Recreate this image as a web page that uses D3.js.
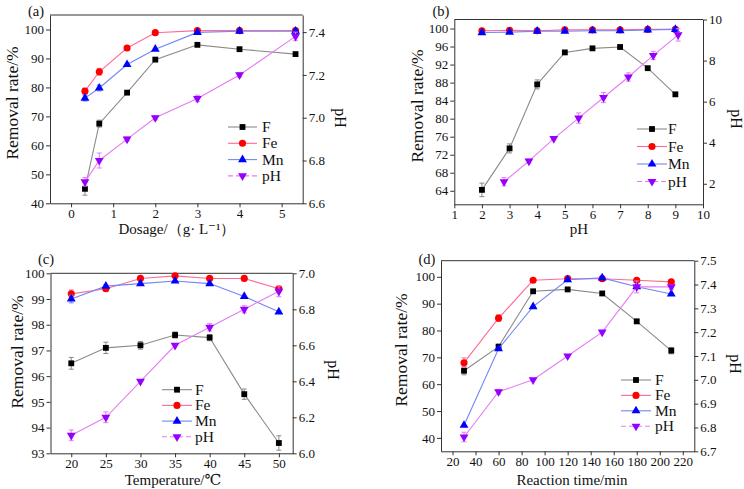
<!DOCTYPE html>
<html><head><meta charset="utf-8">
<script src="https://cdn.jsdelivr.net/npm/d3@7"></script>
<style>
html,body{margin:0;padding:0;background:#fff;}
</style></head>
<body><svg id="c" width="744" height="489"></svg>
<script>
// ---------- data ----------
const seriesNames = ["F","Fe","Mn","pH"];
// (a) dosage
const aX = [0.33,0.67,1.33,2,3,4,5.33];
const aF = [45,67.5,78.2,89.6,94.7,93.2,91.5];
const aFe = [78.7,85.4,93.6,98.9,99.6,99.6,99.6];
const aMn = [76.3,79.8,87.9,93.2,99.0,99.4,99.4];
const aPH = [6.70,6.80,6.90,7.00,7.09,7.20,7.38];
const aFErr = [2.2,1.2,0,0,0,0,0];
const aFeErr = [1,1.2,0,0,0,0,0];
const aMnErr = [1,1,0,0,0,0,0];
const aPHErr = [0.02,0.035,0.01,0.01,0.015,0.01,0.02];
const aXTicks = [0,1,2,3,4,5];
const aYTicks = [40,50,60,70,80,90,100];
const aRTicks = [6.6,6.8,7.0,7.2,7.4];
// (b) initial pH
const bX = [2,3,4,5,6,7,8,9];
const bF = [64.2,73.4,87.6,94.7,95.6,95.9,91.2,85.4];
const bFe = [99.5,99.6,99.5,99.7,99.7,99.7,99.8,99.8];
const bMn = [99.1,99.2,99.4,99.4,99.5,99.5,99.7,99.8];
const bPHx = [2.8,3.7,4.6,5.5,6.4,7.3,8.2,9.1];
const bPH = [2.1,3.1,4.2,5.2,6.2,7.2,8.25,9.25];
const bFErr = [1.5,1,1,0,0,0,0,0];
const bFeErr = [0,0,0,0,0,0,0,0];
const bMnErr = [0,0,0,0,0,0,0,0];
const bPHErr = [0.2,0.1,0.05,0.25,0.25,0.2,0.2,0.3];
const bXTicks = [1,2,3,4,5,6,7,8,9,10];
const bYTicks = [64,68,72,76,80,84,88,92,96,100];
const bRTicks = [2,4,6,8,10];
// (c) temperature
const cX = [20,25,30,35,40,45,50];
const cF = [96.5,97.1,97.2,97.6,97.5,95.3,93.4];
const cFe = [99.2,99.4,99.8,99.9,99.8,99.8,99.4];
const cMn = [99.0,99.5,99.6,99.7,99.6,99.1,98.5];
const cPH = [6.1,6.2,6.4,6.6,6.7,6.8,6.9];
const cFErr = [0.23,0.22,0.15,0.12,0.12,0.2,0.28];
const cFeErr = [0.15,0.08,0,0,0,0,0.08];
const cMnErr = [0.15,0.05,0,0,0,0,0];
const cPHErr = [0.03,0.03,0,0,0.02,0.02,0.03];
const cXTicks = [20,25,30,35,40,45,50];
const cYTicks = [93,94,95,96,97,98,99,100];
const cRTicks = [6.0,6.2,6.4,6.6,6.8,7.0];
// (d) reaction time
const dX = [30,60,90,120,150,180,210];
const dF = [65,74,94.6,95.3,93.8,83.4,72.5];
const dFe = [68,84.6,98.7,99.3,99.3,98.7,98.1];
const dMn = [44.7,73.2,88.9,98.9,99.6,96.3,93.6];
const dPH = [6.76,6.95,7.0,7.1,7.2,7.39,7.39];
const dFErr = [1.5,0.8,0,0,0,0.8,1.2];
const dFeErr = [1.8,1.2,0,0,0,0,0];
const dMnErr = [0,0,0,0,0,0,0];
const dPHErr = [0.02,0.01,0,0,0,0.025,0.01];
const dXTicks = [20,40,60,80,100,120,140,160,180,200,220];
const dYTicks = [40,50,60,70,80,90,100];
const dRTicks = [6.7,6.8,6.9,7.0,7.1,7.2,7.3,7.4,7.5];

// ---------- styles ----------
const FONT = "'Liberation Serif', 'Times New Roman', 'DejaVu Serif', serif";
const lineCol = {F:"#8a8a8a", Fe:"#ff6b98", Mn:"#7286f5", pH:"#e67cf2"};
const markCol = {F:"#000000", Fe:"#ff0000", Mn:"#0000ff", pH:"#9600ff"};
const symType = {F:d3.symbolSquare, Fe:d3.symbolCircle, Mn:d3.symbolTriangle, pH:d3.symbolTriangle};
const symSize = {F:34, Fe:40, Mn:34, pH:34};
const symRot = {F:0, Fe:0, Mn:0, pH:180};

const panels = [
 {label:"(a)", box:[50,302.7,15,203.3], xd:[-0.5,5.5], yd:[40,105], rd:[6.6,7.48],
  xt:aXTicks, yt:aYTicks, rt:aRTicks, rfmt:d3.format(".1f"),
  x:aX, phx:aX, F:aF, Fe:aFe, Mn:aMn, pH:aPH, eF:aFErr, eFe:aFeErr, eMn:aMnErr, epH:aPHErr,
  xtitle:"Dosage/（g· L⁻¹）", xtx:177, xty:234, ltx:18, lty:103, rtx:335, rty:118,
  lab:[36,16], leg:{x1:228,x2:257,tx:262,y0:127,dy:16.3}},
 {label:"(b)", box:[454.3,703,19.5,204.3], xd:[1,10], yd:[61,102], rd:[1,10],
  xt:bXTicks, yt:bYTicks, rt:bRTicks, rfmt:d3.format("d"),
  x:bX, phx:bPHx, F:bF, Fe:bFe, Mn:bMn, pH:bPH, eF:bFErr, eFe:bFeErr, eMn:bMnErr, epH:bPHErr,
  xtitle:"pH", xtx:579, xty:234, ltx:423, lty:106, rtx:731, rty:119,
  lab:[441,16], leg:{x1:637,x2:667,tx:668,y0:129,dy:17.5}},
 {label:"(c)", box:[50.5,292.7,273.3,453.3], xd:[17,52], yd:[93,100], rd:[6,7],
  xt:cXTicks, yt:cYTicks, rt:cRTicks, rfmt:d3.format(".1f"),
  x:cX, phx:cX, F:cF, Fe:cFe, Mn:cMn, pH:cPH, eF:cFErr, eFe:cFeErr, eMn:cMnErr, epH:cPHErr,
  xtitle:"Temperature/℃", xtx:173, xty:485, ltx:23, lty:352, rtx:328, rty:370,
  lab:[46,264], leg:{x1:162,x2:192,tx:195,y0:389.7,dy:15.7}},
 {label:"(d)", box:[441,694.3,260.7,451.3], xd:[10,230], yd:[35,106], rd:[6.7,7.5],
  xt:dXTicks, yt:dYTicks, rt:dRTicks, rfmt:d3.format(".1f"),
  x:dX, phx:dX, F:dF, Fe:dFe, Mn:dMn, pH:dPH, eF:dFErr, eFe:dFeErr, eMn:dMnErr, epH:dPHErr,
  xtitle:"Reaction time/min", xtx:572, xty:485, ltx:407, lty:350, rtx:730, rty:364,
  lab:[427,264], leg:{x1:621,x2:651,tx:655,y0:380,dy:15.4}}
];

const svg = d3.select("#c");
const TF = 13;
const txt = (sel) => sel.style("font-family", FONT).attr("fill","#111");

panels.forEach(p => {
  const [L,R,T,B] = p.box;
  const x = d3.scaleLinear().domain(p.xd).range([L,R]);
  const y = d3.scaleLinear().domain(p.yd).range([B,T]);
  const yr = d3.scaleLinear().domain(p.rd).range([B,T]);
  const g = svg.append("g");

  g.append("line").attr("x1",L).attr("x2",R).attr("y1",T).attr("y2",T).attr("stroke","#333").attr("stroke-width",1);

  const styleAxis = sel => {
    sel.attr("font-family", null);
    sel.selectAll("path").attr("stroke","#333").attr("stroke-width",1);
    sel.selectAll("line").attr("stroke","#333");
    sel.selectAll("text").style("font-family", FONT).style("font-size", TF+"px").attr("fill","#111");
  };
  g.append("g").attr("transform",`translate(0,${B})`)
    .call(d3.axisBottom(x).tickValues(p.xt).tickSize(4).tickSizeOuter(0).tickPadding(1).tickFormat(d3.format("d")))
    .call(styleAxis);
  g.append("g").attr("transform",`translate(${L},0)`)
    .call(d3.axisLeft(y).tickValues(p.yt).tickSize(4).tickSizeOuter(0).tickPadding(2).tickFormat(d3.format("d")))
    .call(styleAxis);
  g.append("g").attr("transform",`translate(${R},0)`)
    .call(d3.axisRight(yr).tickValues(p.rt).tickSize(4).tickSizeOuter(0).tickPadding(2).tickFormat(p.rfmt))
    .call(styleAxis);

  g.append("text").attr("x",p.xtx).attr("y",p.xty).attr("text-anchor","middle").style("font-size","15px").text(p.xtitle).call(txt);
  g.append("text").attr("transform",`translate(${p.ltx},${p.lty}) rotate(-90)`).attr("text-anchor","middle").style("font-size","17.5px").text("Removal rate/%").call(txt);
  g.append("text").attr("transform",`translate(${p.rtx},${p.rty}) rotate(90)`).attr("text-anchor","middle").style("font-size","16px").text("pH").call(txt);
  g.append("text").attr("x",p.lab[0]).attr("y",p.lab[1]).attr("text-anchor","middle").style("font-size","14.5px").text(p.label).call(txt);

  seriesNames.forEach(s => {
    const isPH = s === "pH";
    const xs = isPH ? p.phx : p.x;
    const ys = p[s];
    const es = p["e"+s];
    const ys2 = isPH ? yr : y;
    const pts = xs.map((v,i)=>({x:v,y:ys[i],e:es[i]}));
    g.append("path").datum(pts)
      .attr("d", d3.line().x(d=>x(d.x)).y(d=>ys2(d.y)))
      .attr("fill","none").attr("stroke",lineCol[s]).attr("stroke-width",1.1);
    const eb = g.append("g").attr("stroke",lineCol[s]).attr("stroke-width",1);
    pts.filter(d=>d.e>0).forEach(d=>{
      const cx = x(d.x), y1 = ys2(d.y-d.e), y2 = ys2(d.y+d.e);
      eb.append("line").attr("x1",cx).attr("x2",cx).attr("y1",y1).attr("y2",y2);
      eb.append("line").attr("x1",cx-2.5).attr("x2",cx+2.5).attr("y1",y1).attr("y2",y1);
      eb.append("line").attr("x1",cx-2.5).attr("x2",cx+2.5).attr("y1",y2).attr("y2",y2);
    });
    g.append("g").selectAll("path").data(pts).join("path")
      .attr("d", d3.symbol().type(symType[s]).size(symSize[s]))
      .attr("transform", d=>`translate(${x(d.x)},${ys2(d.y)}) rotate(${symRot[s]})`)
      .attr("fill",markCol[s]);
  });

  const lg = p.leg;
  seriesNames.forEach((s,i)=>{
    const yy = lg.y0 + i*lg.dy;
    g.append("line").attr("x1",lg.x1).attr("x2",lg.x2).attr("y1",yy).attr("y2",yy)
      .attr("stroke",lineCol[s]).attr("stroke-width",1.1)
      .attr("stroke-dasharray", s==="pH" ? "5,3" : null);
    g.append("path").attr("d", d3.symbol().type(symType[s]).size(symSize[s]))
      .attr("transform",`translate(${(lg.x1+lg.x2)/2},${yy}) rotate(${symRot[s]})`).attr("fill",markCol[s]);
    g.append("text").attr("x",lg.tx).attr("y",yy+5).style("font-size","15.5px").text(s).call(txt);
  });
});
</script></body></html>
